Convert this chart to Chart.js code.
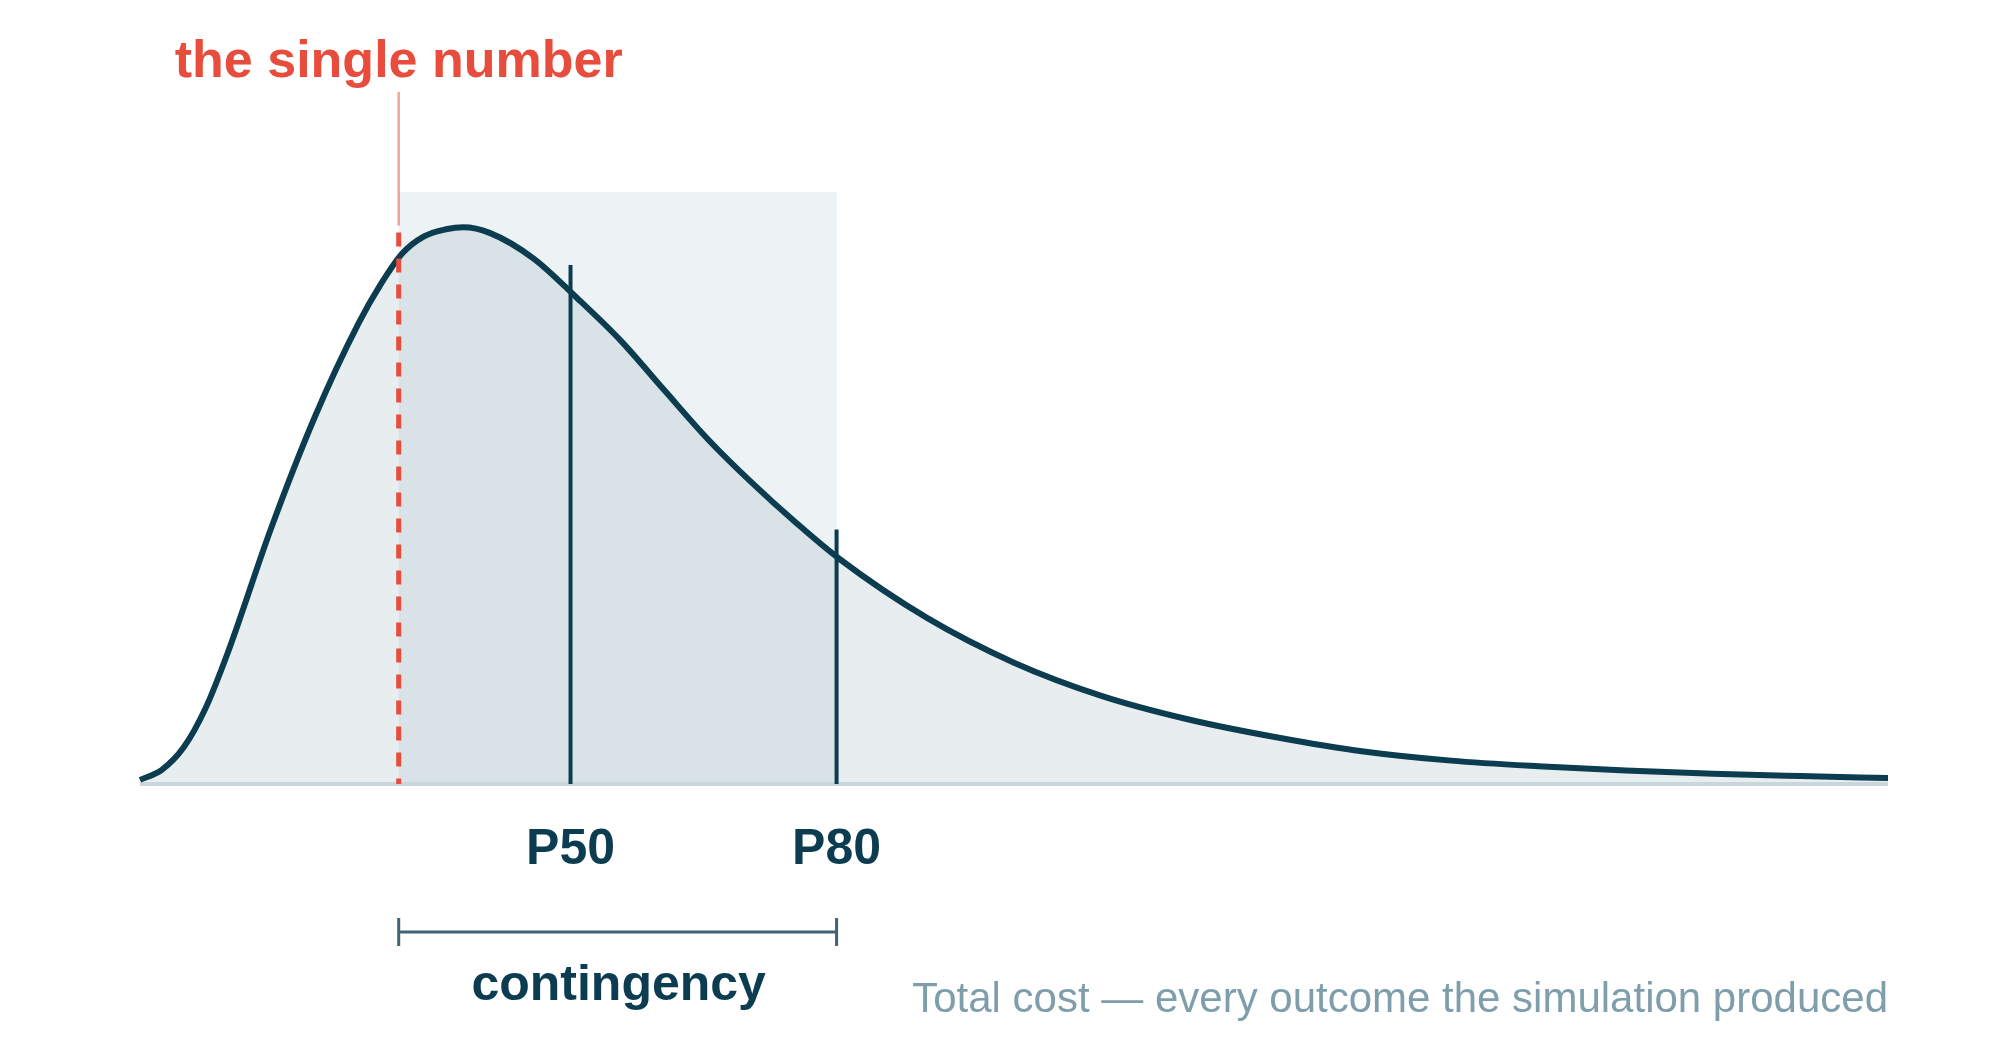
<!DOCTYPE html>
<html>
<head>
<meta charset="utf-8">
<script src="https://cdn.jsdelivr.net/npm/chart.js@4.4.1/dist/chart.umd.min.js"></script>
<style>
  html, body { margin: 0; padding: 0; background: #ffffff; }
  #wrap { width: 2000px; height: 1040px; position: relative; }
</style>
</head>
<body>
<div id="wrap"><canvas id="costChart"></canvas></div>
<script>
// Simulated total cost distribution
const costValues = [0, 1.25, 2.5, 3.75, 5, 7.5, 10, 12.5, 13.75, 15, 16.25, 17.5, 18.5, 20, 22.5, 25, 27.5, 30,
  32.5, 35, 37.5, 40, 45, 50, 55, 60, 65, 70, 75, 80, 85, 90, 95, 100];
const density = [0.7, 2.4, 6.2, 12.8, 22.0, 43.2, 62.0, 77.8, 84.3, 89.6, 92.5, 93.7, 94.05, 93.1, 88.8, 82.1, 74.9, 66.5,
  58.2, 50.9, 44.2, 38.05, 28.1, 20.5, 14.9, 10.9, 7.9, 5.5, 3.95, 3.0, 2.3, 1.75, 1.35, 1.0];

// Markers on the cost axis
const singleNumber = 14.8;
const percentileValues = [24.63, 39.85];
const percentileLabels = ["P50", "P80"];

// Texts
const singleNumberLabel = "the single number";
const contingencyLabel = "contingency";
const axisCaption = "Total cost \u2014 every outcome the simulation produced";

const NAVY = "#0b3c50";
const RED = "#e74c3c";
const FONT = '"Liberation Sans", Arial, sans-serif';

// linear lookup of the curve height at a cost value
function densityAt(v) {
  for (let i = 1; i < costValues.length; i++) {
    if (v <= costValues[i]) {
      const t = (v - costValues[i - 1]) / (costValues[i] - costValues[i - 1]);
      return density[i - 1] + t * (density[i] - density[i - 1]);
    }
  }
  return density[density.length - 1];
}

const annotations = {
  id: "annotations",
  beforeDatasetsDraw(chart) {
    const { ctx, chartArea, scales: { x, y } } = chart;
    const y0 = y.getPixelForValue(0);
    const left = x.getPixelForValue(singleNumber);
    const right = x.getPixelForValue(percentileValues[1]);
    ctx.save();
    // contingency band (drawn over the curve fill)
    ctx.fillStyle = "rgba(75,125,155,0.1)";
    ctx.fillRect(left, chartArea.top, right - left, y0 - chartArea.top);
    // baseline
    ctx.fillStyle = "#c9d6dc";
    ctx.fillRect(chartArea.left, y0 - 2, chartArea.right - chartArea.left, 4);
    ctx.restore();
  },
  afterDatasetsDraw(chart) {
    const { ctx, chartArea, scales: { x, y } } = chart;
    const y0 = y.getPixelForValue(0);
    ctx.save();

    // the single number: dashed red line + faint leader + label
    const sx = x.getPixelForValue(singleNumber);
    const dashTop = y.getPixelForValue(densityAt(singleNumber)) - 26;
    ctx.strokeStyle = RED;
    ctx.lineWidth = 5;
    ctx.setLineDash([14, 12]);
    ctx.beginPath();
    ctx.moveTo(sx, dashTop);
    ctx.lineTo(sx, y0);
    ctx.stroke();
    ctx.setLineDash([]);
    ctx.strokeStyle = "rgba(231,76,60,0.5)";
    ctx.lineWidth = 2.5;
    ctx.beginPath();
    ctx.moveTo(sx, chartArea.top - 100);
    ctx.lineTo(sx, dashTop - 7);
    ctx.stroke();
    ctx.fillStyle = RED;
    ctx.font = "bold 52px " + FONT;
    ctx.textAlign = "center";
    ctx.textBaseline = "alphabetic";
    ctx.fillText(singleNumberLabel, sx, chartArea.top - 115);

    // percentile lines + labels
    ctx.strokeStyle = NAVY;
    ctx.fillStyle = NAVY;
    ctx.lineWidth = 4;
    ctx.font = "bold 50px " + FONT;
    percentileValues.forEach((v, i) => {
      const px = x.getPixelForValue(v);
      const top = y.getPixelForValue(densityAt(v)) - 27;
      ctx.beginPath();
      ctx.moveTo(px, top);
      ctx.lineTo(px, y0);
      ctx.stroke();
      ctx.fillText(percentileLabels[i], px, y0 + 80);
    });

    // contingency bracket
    const bx1 = sx, bx2 = x.getPixelForValue(percentileValues[1]);
    const by = y0 + 148;
    ctx.strokeStyle = "#3e6577";
    ctx.lineWidth = 3;
    ctx.beginPath();
    ctx.moveTo(bx1, by); ctx.lineTo(bx2, by);
    ctx.moveTo(bx1, by - 14); ctx.lineTo(bx1, by + 14);
    ctx.moveTo(bx2, by - 14); ctx.lineTo(bx2, by + 14);
    ctx.stroke();
    ctx.fillStyle = NAVY;
    ctx.font = "bold 50px " + FONT;
    ctx.fillText(contingencyLabel, (bx1 + bx2) / 2 + 1, y0 + 216);

    // axis caption
    ctx.fillStyle = "#7f9eab";
    ctx.font = "42px " + FONT;
    ctx.textAlign = "right";
    ctx.fillText(axisCaption, chartArea.right, y0 + 228);
    ctx.restore();
  }
};

new Chart(document.getElementById("costChart").getContext("2d"), {
  type: "line",
  data: {
    datasets: [{
      data: costValues.map((c, i) => ({ x: c, y: density[i] })),
      borderColor: NAVY,
      borderWidth: 6,
      backgroundColor: "#e8eef0",
      fill: "origin",
      pointRadius: 0,
      cubicInterpolationMode: "monotone",
      clip: false
    }]
  },
  options: {
    responsive: true,
    maintainAspectRatio: false,
    animation: false,
    layout: { padding: { left: 140, right: 112, top: 192, bottom: 256 } },
    scales: {
      x: { type: "linear", min: 0, max: 100, display: false },
      y: { min: 0, max: 100, display: false }
    },
    plugins: {
      legend: { display: false },
      tooltip: { enabled: false },
      filler: { drawTime: "beforeDatasetsDraw" }
    }
  },
  plugins: [annotations]
});
</script>
</body>
</html>
